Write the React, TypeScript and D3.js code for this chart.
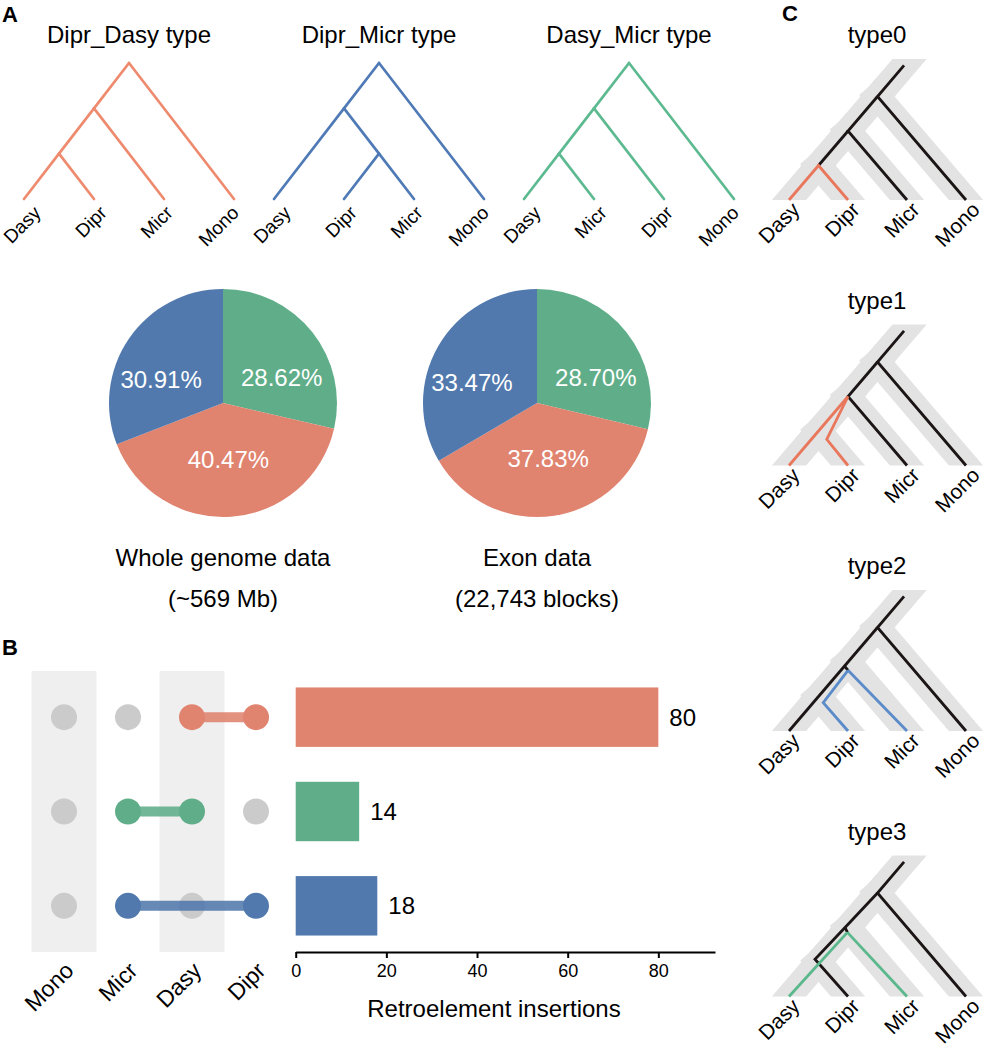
import React, { useEffect, useRef } from 'react';
import * as d3 from 'd3';

const width = 987;
const height = 1050;
const FONT = 'Liberation Sans, Arial, Helvetica, sans-serif';

// panel A: three topologies
const treeTitles = ['Dipr_Dasy type', 'Dipr_Micr type', 'Dasy_Micr type'];
const treeTopologies: any[] = [
  [[['Dasy', 'Dipr'], 'Micr'], 'Mono'],
  [['Dasy', ['Dipr', 'Micr']], 'Mono'],
  [[['Dasy', 'Micr'], 'Dipr'], 'Mono']
];
const treeColors = ['#ee8a6e', '#4f7ab6', '#5dba90'];

// panel A: pies (clockwise from 12 o'clock)
const pieSlices = ['Dasy_Micr', 'Dipr_Dasy', 'Dipr_Micr'];
const pieColors = ['#5fae89', '#e0836f', '#5179ad'];
const wholeGenomePct = [28.62, 40.47, 30.91];
const exonPct = [28.7, 37.83, 33.47];
const pieCaptions = [
  ['Whole genome data', '(~569 Mb)'],
  ['Exon data', '(22,743 blocks)']
];

// panel B
const bSpecies = ['Mono', 'Micr', 'Dasy', 'Dipr'];
const shadedSpecies = ['Mono', 'Dasy'];
const insertionSets = [['Dasy', 'Dipr'], ['Micr', 'Dasy'], ['Micr', 'Dipr']];
const insertionCounts = [80, 14, 18];
const insertionColors = ['#e0836f', '#5fae89', '#5179ad'];
const xTicks = [0, 20, 40, 60, 80];

// panel C: species tree + gene lineages in (leaf position, time) units
const speciesTree: any = [[['Dasy', 'Dipr'], 'Micr'], 'Mono'];
const typeNames = ['type0', 'type1', 'type2', 'type3'];
const lineageColors: Record<string, string> = { k: '#1c1515', r: '#e9775c', b: '#5b8bc8', g: '#5bb88c' };
const typeLineages: { c: string; pts: [number, number][] }[][] = [
  [
    { c: 'k', pts: [[1.95, 1.95], [1.5, 1.5], [3, 0]] },
    { c: 'k', pts: [[1.5, 1.5], [1, 1], [2, 0]] },
    { c: 'k', pts: [[1, 1], [0.5, 0.5]] },
    { c: 'r', pts: [[0, 0], [0.5, 0.5], [1, 0]] }
  ],
  [
    { c: 'k', pts: [[1.95, 1.95], [1.5, 1.5], [3, 0]] },
    { c: 'k', pts: [[1.5, 1.5], [1, 1], [2, 0]] },
    { c: 'r', pts: [[1, 1], [0, 0]] },
    { c: 'r', pts: [[1, 1], [0.64, 0.38], [1, 0]] }
  ],
  [
    { c: 'k', pts: [[1.95, 1.95], [1.5, 1.5], [3, 0]] },
    { c: 'k', pts: [[1.5, 1.5], [0, 0]] },
    { c: 'k', pts: [[0.94, 0.94], [1.0, 0.88]] },
    { c: 'b', pts: [[1.0, 0.88], [2, 0]] },
    { c: 'b', pts: [[1.0, 0.88], [0.58, 0.41], [1, 0]] }
  ],
  [
    { c: 'k', pts: [[1.95, 1.95], [1.5, 1.5], [3, 0]] },
    { c: 'k', pts: [[1.5, 1.5], [0.95, 1.0], [0.44, 0.54], [1, 0]] },
    { c: 'k', pts: [[0.95, 1.0], [0.99, 0.93]] },
    { c: 'g', pts: [[0.99, 0.93], [0, 0]] },
    { c: 'g', pts: [[0.99, 0.93], [2, 0]] }
  ]
];

// slanted cladogram: leaves at t=0, every branch at the same slope
function slantLayout(topology: any) {
  const root: any = d3.hierarchy(topology, (d: any) => (Array.isArray(d) ? d : null));
  root.leaves().forEach((l: any, i: number) => {
    l.u = i;
    l.t = 0;
  });
  root.eachAfter((n: any) => {
    if (!n.children) return;
    const [a, b] = n.children;
    n.t = (b.u - a.u + a.t + b.t) / 2;
    n.u = a.u + (n.t - a.t);
  });
  return root;
}

function TreeA({ k }: { k: number }) {
  const root = slantLayout(treeTopologies[k]);
  const x0 = 24 + k * 250;
  const x = d3.scaleLinear().domain([0, 3]).range([x0, x0 + 210]);
  const y = d3.scaleLinear().domain([0, 1.5]).range([199, 63]);
  const leaves = root.leaves();
  const lab = d3
    .scalePoint()
    .domain(leaves.map((l: any) => l.data))
    .range([x0 + 18, x0 + 216]);
  return (
    <g>
      <text x={x(root.u)} y={43} textAnchor="middle" fontSize={24}>
        {treeTitles[k]}
      </text>
      {root.links().map((l: any, i: number) => (
        <line
          key={i}
          x1={x(l.source.u)}
          y1={y(l.source.t)}
          x2={x(l.target.u)}
          y2={y(l.target.t)}
          stroke={treeColors[k]}
          strokeWidth={2.7}
          strokeLinecap="round"
        />
      ))}
      {leaves.map((l: any) => (
        <text
          key={l.data}
          transform={`translate(${lab(l.data)},${y(0) + 15}) rotate(-45)`}
          textAnchor="end"
          fontSize={19}
        >
          {l.data}
        </text>
      ))}
    </g>
  );
}

function Pie({ values, cx, caption }: { values: number[]; cx: number; caption: string[] }) {
  const cy = 403;
  const r = 114;
  const arcs = d3.pie<number>().sort(null)(values);
  const arc = d3.arc<any>().innerRadius(0).outerRadius(r);
  const labelArc = d3.arc<any>().innerRadius(75).outerRadius(75);
  return (
    <g>
      <g transform={`translate(${cx},${cy})`}>
        {arcs.map((a, i) => (
          <path key={pieSlices[i]} d={arc(a) as string} fill={pieColors[i]} />
        ))}
        {arcs.map((a, i) => {
          const [lx, ly] = labelArc.centroid(a);
          return (
            <text
              key={i}
              x={lx}
              y={ly < 0 ? ly * 0.55 : ly * 0.75}
              dy="0.35em"
              textAnchor="middle"
              fill="#fff"
              fontSize={24}
            >
              {values[i].toFixed(2)}%
            </text>
          );
        })}
      </g>
      <text x={cx} y={566} textAnchor="middle" fontSize={24}>
        {caption[0]}
      </text>
      <text x={cx} y={607} textAnchor="middle" fontSize={24}>
        {caption[1]}
      </text>
    </g>
  );
}

function PanelB() {
  const axisRef = useRef<SVGGElement>(null);
  const col = d3.scalePoint().domain(bSpecies).range([64, 256]);
  const rows = d3
    .scaleBand<number>()
    .domain(insertionCounts.map((_, i) => i))
    .range([670, 953])
    .paddingInner(0.37)
    .paddingOuter(0.185);
  const xBar = d3.scaleLinear().domain([0, 92.5]).range([295.7, 715]);
  const axisY = 952;

  useEffect(() => {
    const g = d3.select(axisRef.current);
    g.call(d3.axisBottom(xBar).tickValues(xTicks).tickSize(6).tickSizeOuter(0).tickPadding(6) as any);
    g.select('.domain').attr('stroke', '#000').attr('stroke-width', 2);
    g.selectAll('.tick line').attr('stroke', '#000').attr('stroke-width', 2);
    g.selectAll('.tick text').attr('font-size', 18).attr('font-family', FONT).attr('fill', '#000');
  }, []);

  return (
    <g>
      {shadedSpecies.map(s => (
        <rect key={s} x={(col(s) as number) - 32.5} y={671} width={65} height={axisY - 671} fill="#efefef" />
      ))}
      {insertionSets.map((set, i) => {
        const cy = (rows(i) as number) + rows.bandwidth() / 2;
        const xs = set.map(s => col(s) as number);
        return (
          <g key={i}>
            {bSpecies.map(s => (
              <circle
                key={s}
                cx={col(s)}
                cy={cy}
                r={13}
                fill={set.includes(s) ? insertionColors[i] : '#cbcbcb'}
              />
            ))}
            <line
              x1={d3.min(xs)}
              x2={d3.max(xs)}
              y1={cy}
              y2={cy}
              stroke={insertionColors[i]}
              strokeWidth={10}
              opacity={0.88}
            />
          </g>
        );
      })}
      {bSpecies.map(s => (
        <text
          key={s}
          transform={`translate(${(col(s) as number) + 11},972) rotate(-45)`}
          textAnchor="end"
          fontSize={23}
        >
          {s}
        </text>
      ))}
      {insertionCounts.map((v, i) => (
        <g key={i}>
          <rect
            x={xBar(0)}
            y={rows(i)}
            width={xBar(v) - xBar(0)}
            height={rows.bandwidth()}
            fill={insertionColors[i]}
          />
          <text
            x={xBar(v) + 11}
            y={(rows(i) as number) + rows.bandwidth() / 2}
            dy="0.35em"
            fontSize={24}
          >
            {v}
          </text>
        </g>
      ))}
      <g ref={axisRef} transform={`translate(0,${axisY})`} />
      <text x={494} y={1017} textAnchor="middle" fontSize={24}>
        Retroelement insertions
      </text>
    </g>
  );
}

function TreeC({ k }: { k: number }) {
  const leafY = 200 + k * 265.5;
  const root = slantLayout(speciesTree);
  const x = d3.scaleLinear().domain([0, 3]).range([789, 966]);
  const y = d3.scaleLinear().domain([0, 1]).range([leafY, leafY - 69]);
  const line = d3
    .line<[number, number]>()
    .x(d => x(d[0]))
    .y(d => y(d[1]));
  const leaves = root.leaves();
  const lab = d3
    .scalePoint()
    .domain(leaves.map((l: any) => l.data))
    .range([801, 981]);
  const clipId = `clipC${k}`;
  const bandPaths = root.links().map((l: any) => [
    [l.source.u, l.source.t],
    [l.target.u, l.target.t]
  ]);
  bandPaths.push([
    [root.u, root.t],
    [root.u + 0.7, root.t + 0.7]
  ]);
  return (
    <g>
      <defs>
        <clipPath id={clipId}>
          <rect x={740} y={leafY - 141} width={260} height={141} />
        </clipPath>
      </defs>
      <text x={877} y={leafY - 157} textAnchor="middle" fontSize={24}>
        {typeNames[k]}
      </text>
      <g clipPath={`url(#${clipId})`}>
        {bandPaths.map((p: any, i: number) => (
          <path
            key={i}
            d={line(p) as string}
            fill="none"
            stroke="#e3e3e3"
            strokeWidth={26}
            strokeLinecap="square"
          />
        ))}
      </g>
      {typeLineages[k].map((l, i) => (
        <path
          key={i}
          d={line(l.pts) as string}
          fill="none"
          stroke={lineageColors[l.c]}
          strokeWidth={2.8}
        />
      ))}
      {leaves.map((l: any) => (
        <text
          key={l.data}
          transform={`translate(${lab(l.data)},${leafY + 11}) rotate(-45)`}
          textAnchor="end"
          fontSize={21}
        >
          {l.data}
        </text>
      ))}
    </g>
  );
}

export default function App() {
  return (
    <svg
      width={width}
      height={height}
      style={{ position: 'absolute', left: 0, top: 0, background: '#fff' }}
      fontFamily={FONT}
    >
      <text x={2} y={22} fontSize={22} fontWeight="bold">A</text>
      <text x={2} y={655} fontSize={22} fontWeight="bold">B</text>
      <text x={782} y={21} fontSize={22} fontWeight="bold">C</text>
      {treeTitles.map((_, k) => (
        <TreeA key={k} k={k} />
      ))}
      <Pie values={wholeGenomePct} cx={223} caption={pieCaptions[0]} />
      <Pie values={exonPct} cx={537} caption={pieCaptions[1]} />
      <PanelB />
      {typeNames.map((_, k) => (
        <TreeC key={k} k={k} />
      ))}
    </svg>
  );
}
